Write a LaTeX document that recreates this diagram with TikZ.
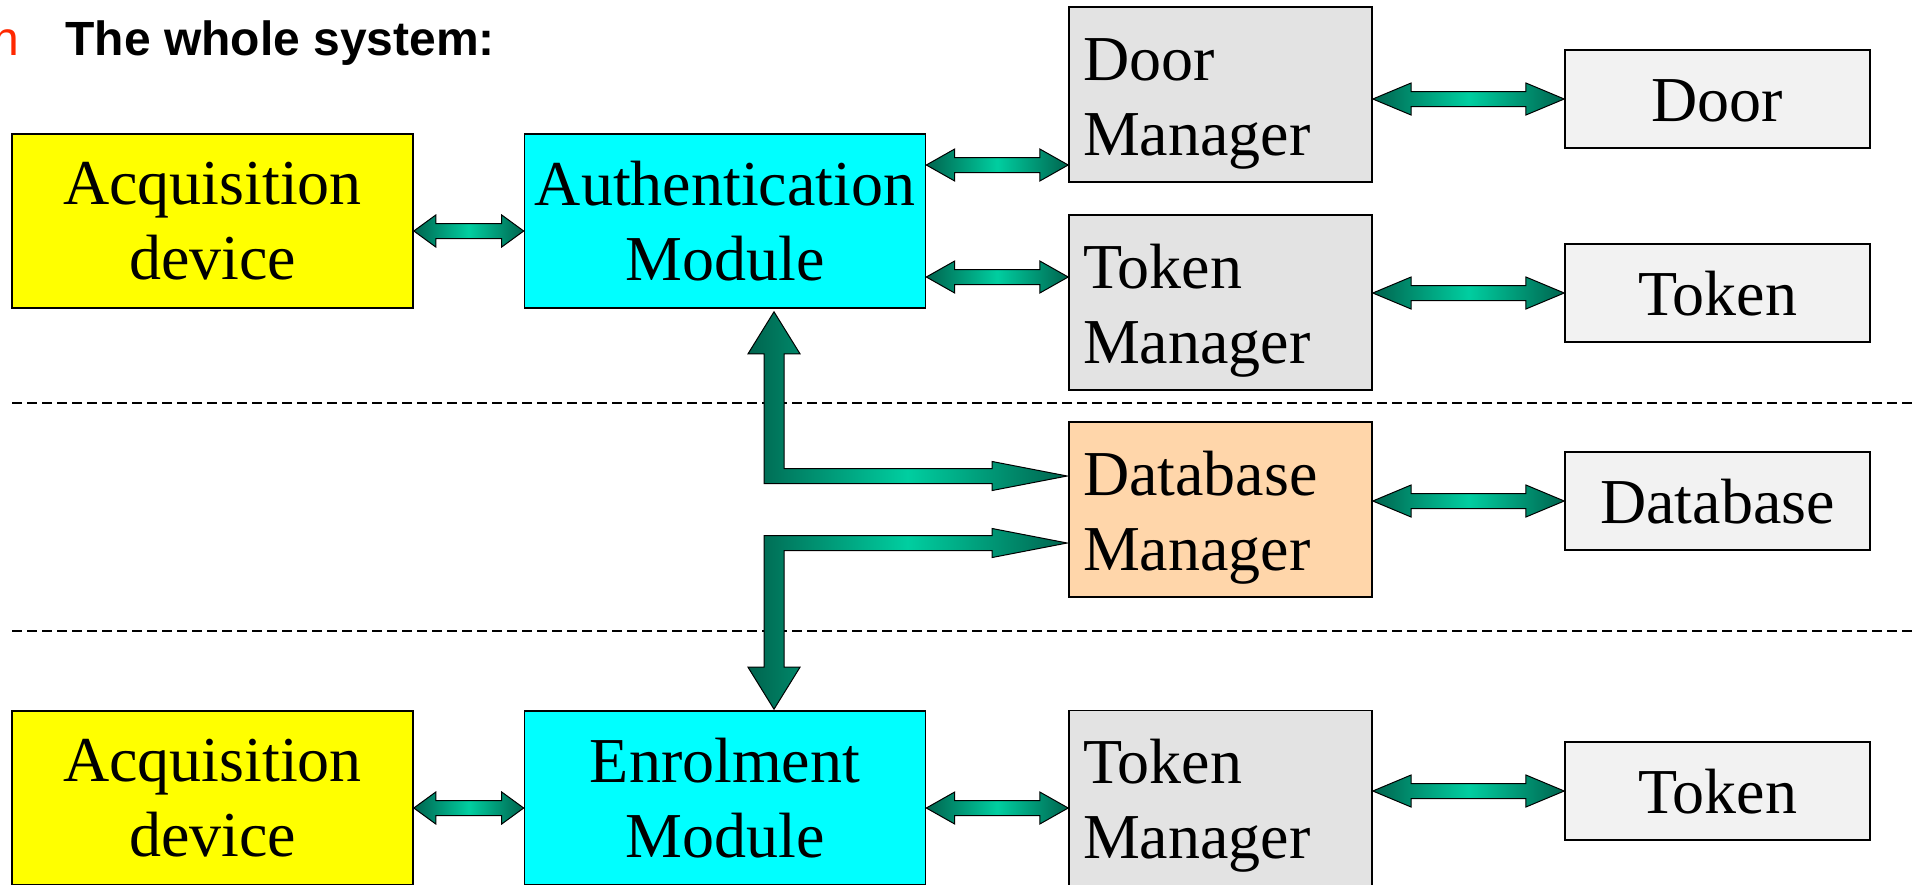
\documentclass[tikz,border=0pt]{standalone}
\usepackage{fontspec}
\setmainfont{Liberation Serif}
\newfontfamily\headfont{Liberation Sans}
\usetikzlibrary{calc}

\definecolor{arrowdark}{RGB}{0,100,78}
\definecolor{arrowlight}{RGB}{0,206,160}
\definecolor{acqyellow}{RGB}{255,255,0}
\definecolor{modcyan}{RGB}{0,255,255}
\definecolor{mgrgray}{RGB}{227,227,227}
\definecolor{devgray}{RGB}{242,242,242}
\definecolor{dbpeach}{RGB}{255,214,170}
\definecolor{bulletred}{RGB}{255,40,0}

% fat double arrow: left node, right node, point that gives the height
\newcommand\duplex[3]{%
  \path[fat arrow] let \p1=(#1.east), \p2=(#2.west), \p3=(#3),
    \n1={0.2*(\x2-\x1)} in
    (\x1,\y3) -- (\x1+\n1*1pt,\y3+8pt) -- (\x1+\n1*1pt,\y3+3.75pt)
    -- (\x2-\n1*1pt,\y3+3.75pt) -- (\x2-\n1*1pt,\y3+8pt) -- (\x2,\y3)
    -- (\x2-\n1*1pt,\y3-8pt) -- (\x2-\n1*1pt,\y3-3.75pt)
    -- (\x1+\n1*1pt,\y3-3.75pt) -- (\x1+\n1*1pt,\y3-8pt) -- cycle;}

\begin{document}
\begin{tikzpicture}[
    x=0.5pt, y=-0.5pt,
    block/.style={
        draw=black,
        line width=0.8pt,
        minimum width=200.5pt,
        minimum height=87pt,
        inner sep=0pt,
        align=center,
        font=\fontsize{32}{37.5}\selectfont
    },
    manager/.style={
        block,
        fill=mgrgray,
        minimum width=151.5pt,
        minimum height=87.5pt,
        text width=137.5pt,
        text height=22pt,
        text depth=36.5pt,
        align=left
    },
    device/.style={
        block,
        fill=devgray,
        minimum width=152.5pt,
        minimum height=49pt,
        text height=28pt,
        text depth=6pt
    },
    fat arrow/.style={
        draw=black,
        line width=0.5pt,
        left color=arrowdark,
        right color=arrowdark,
        middle color=arrowlight
    },
    sep line/.style={
        draw=black,
        line width=0.7pt,
        dash pattern=on 5pt off 2.5pt
    },
    head/.style={
        inner sep=0pt,
        anchor=base west,
        font=\headfont\fontsize{24}{28}\selectfont
    }
]
\path[use as bounding box] (0,0) rectangle (1916,884);
\clip (0,0) rectangle (1916,884);

% heading
\node[head, anchor=base east, text=bulletred] (bullet) at (20,55) {n};
\node[head, font=\headfont\bfseries\fontsize{24}{28}\selectfont] (title) at (65,55) {The whole system:};

% separators
\draw[sep line] (12,403) -- (1916,403);
\draw[sep line] (12,631) -- (1916,631);

% authentication part
\node[block, fill=acqyellow] (acq) at (212.5,221) {Acquisition\\device};
\node[block, fill=modcyan] (auth) at (725,221) {Authentication\\Module};
\node[manager] (doormgr) at (1220.5,94.5) {Door\\Manager};
\node[manager] (tokmgr) at (1220.5,302.5) {Token\\Manager};
\node[device] (door) at (1717.5,99) {Door};
\node[device] (token) at (1717.5,293) {Token};

% database
\node[manager, fill=dbpeach] (dbmgr) at (1220.5,509.5) {Database\\Manager};
\node[device] (db) at (1717.5,501) {Database};

% enrolment part
\node[block, fill=acqyellow] (acq2) at (212.5,798) {Acquisition\\device};
\node[block, fill=modcyan] (enrol) at (725,798) {Enrolment\\Module};
\node[manager] (tokmgr2) at (1220.5,798) {Token\\Manager};
\node[device] (token2) at (1717.5,791) {Token};

% links
\duplex{acq}{auth}{$(acq)+(0,10)$}
\duplex{auth}{doormgr}{$(auth)+(0,-56)$}
\duplex{auth}{tokmgr}{$(auth)+(0,56)$}
\duplex{doormgr}{door}{door}
\duplex{tokmgr}{token}{token}
\duplex{dbmgr}{db}{db}
\duplex{acq2}{enrol}{$(acq2)+(0,10)$}
\duplex{enrol}{tokmgr2}{$(enrol)+(0,10)$}
\duplex{tokmgr2}{token2}{token2}

% bent arrows to the database manager
\coordinate (authport) at ($(auth.south)+(49,3)$);
\coordinate (dbin) at ($(dbmgr.west)+(-1,-33.5)$);
\coordinate (enrolport) at ($(enrol.north)+(49,-1)$);
\coordinate (dbout) at ($(dbmgr.west)+(-1,33.5)$);

\path[fat arrow] (authport) -- ++(26,42) -- ++(-16,0)
    |- ($(dbin)+(-75,-7.5)$) -- ++(0,-7) -- (dbin) -- ++(-75,14.5) -- ++(0,-7)
    -| ($(authport)+(-10,42)$) -- ++(-16,0) -- cycle;
\path[fat arrow] (enrolport) -- ++(26,-42) -- ++(-16,0)
    |- ($(dbout)+(-75,7.5)$) -- ++(0,7) -- (dbout) -- ++(-75,-14.5) -- ++(0,7)
    -| ($(enrolport)+(-10,-42)$) -- ++(-16,0) -- cycle;
\end{tikzpicture}
\end{document}
